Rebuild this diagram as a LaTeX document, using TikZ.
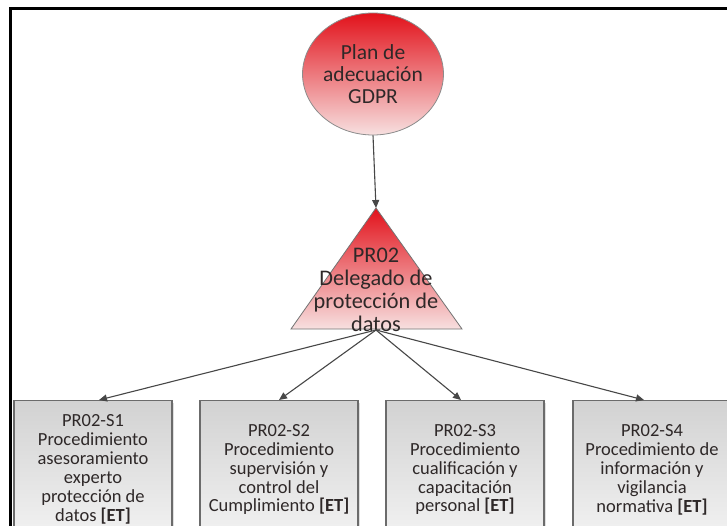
\documentclass[tikz,border=0pt]{standalone}
\usepackage{fontspec}
\setmainfont{Carlito}
\usetikzlibrary{shapes.geometric,arrows.meta,shadows}
\definecolor{redtop}{HTML}{E2121B}
\definecolor{redbot}{HTML}{F7E0E0}
\definecolor{boxtop}{HTML}{D2D2D2}
\definecolor{boxbot}{HTML}{F2F2F2}
\definecolor{txt}{HTML}{2E2828}
\begin{document}
\begin{tikzpicture}[x=1pt,y=-1pt,
  arr/.style={draw=black!72, line width=1.1pt, -{Triangle[length=8pt,width=7pt]}},
  boxnode/.style={draw=black!58, line width=1.2pt, top color=boxtop, bottom color=boxbot,
    minimum width=158pt, minimum height=138pt, anchor=north, align=center,
    font=\fontsize{18.5}{18.9}\selectfont, text=txt, inner sep=0pt,
    drop shadow={shadow xshift=2pt, shadow yshift=-2pt, opacity=0.25}},
  frameline/.style={draw=black, line width=3pt}
]
\useasboundingbox (0,0) rectangle (727,526);
\clip (0,0) rectangle (727,526);
\fill[white] (0,0) rectangle (727,526);
% frame
\draw[frameline] (10,540) -- (10,9) -- (740,9);
% circle
\node[ellipse, draw=black!45, line width=0.8pt, top color=redtop, bottom color=redbot,
  minimum width=138pt, minimum height=122pt, inner sep=0pt, align=center, text=txt,
  font=\fontsize{21.5}{21.7}\selectfont] (circ) at (373,74) {Plan de\\adecuación\\GDPR};
% triangle
\coordinate (apex) at (376,208);
\coordinate (base) at (376,330);
\path[draw=black!55, line width=0.8pt, top color=redtop, bottom color=redbot]
  (apex) -- (291,329) -- (462,329) -- cycle;
\node[align=center, text=txt, inner sep=0pt, font=\fontsize{22.3}{23}\selectfont] (tri) at (376,290)
  {PR02\\Delegado de\\protección de\\datos};
% boxes
\node[boxnode] (b1) at (93,400) {PR02-S1\\Procedimiento\\asesoramiento\\experto\\protección de\\datos \textbf{[ET]}};
\node[boxnode] (b2) at (279,400) {PR02-S2\\Procedimiento\\supervisión y\\control del\\Cumplimiento \textbf{[ET]}};
\node[boxnode] (b3) at (465,400) {PR02-S3\\Procedimiento\\cualificación y\\capacitación\\personal \textbf{[ET]}};
\node[boxnode] (b4) at (652,400) {PR02-S4\\Procedimiento de\\información y\\vigilancia\\normativa \textbf{[ET]}};
% connectors
\draw[arr] (circ.south) -- (apex);
\draw[arr] (base) -- ([xshift=6pt]b1.north);
\draw[arr] (base) -- (b2.north);
\draw[arr] (base) -- ([xshift=-4pt]b3.north);
\draw[arr] (base) -- ([xshift=-8pt]b4.north);
\end{tikzpicture}
\end{document}
